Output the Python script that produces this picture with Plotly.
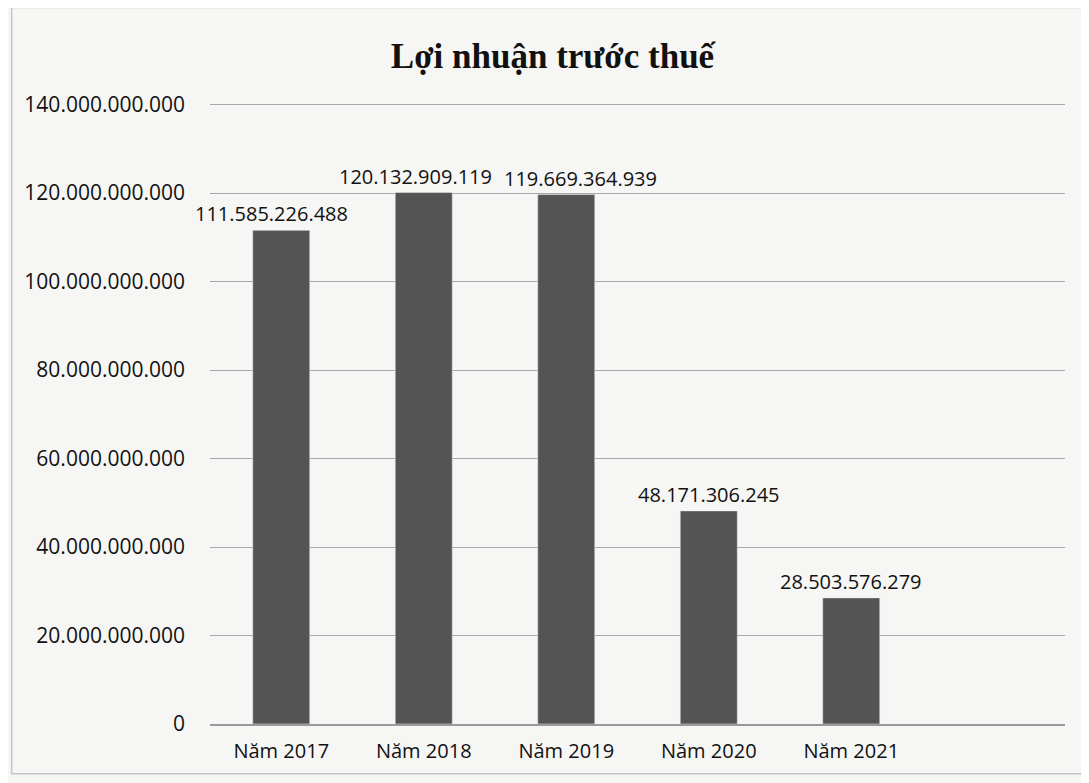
import plotly.graph_objects as go

categories = ["Năm 2017", "Năm 2018", "Năm 2019", "Năm 2020", "Năm 2021"]
values = [111585226488, 120132909119, 119669364939, 48171306245, 28503576279]
value_labels = ["111.585.226.488", "120.132.909.119", "119.669.364.939", "48.171.306.245", "28.503.576.279"]
tick_vals = [0, 20e9, 40e9, 60e9, 80e9, 100e9, 120e9, 140e9]
tick_text = ["0", "20.000.000.000", "40.000.000.000", "60.000.000.000", "80.000.000.000",
             "100.000.000.000", "120.000.000.000", "140.000.000.000"]

label_xshift = [-10, -8, 14, 0, 0]

FONT = "Open Sans"

fig = go.Figure()
fig.add_trace(go.Bar(
    x=categories, y=values,
    marker=dict(color="#545454"), width=0.4,
))

for cat, val, lab, dx in zip(categories, values, value_labels, label_xshift):
    fig.add_annotation(x=cat, y=val, text=lab, showarrow=False, yanchor="bottom",
                       yshift=1, xshift=dx,
                       font=dict(family=FONT, size=20, color="#111"))

fig.update_layout(
    width=1089, height=783,
    paper_bgcolor="#f6f6f4", plot_bgcolor="#f6f6f4",
    margin=dict(l=202, r=32, t=94, b=67),
    title=dict(text="<b>Lợi nhuận trước thuế</b>", x=0.5, xanchor="center", y=0.955,
               font=dict(family="Liberation Serif", size=35, color="#111")),
    showlegend=False,
    xaxis=dict(range=[-0.5, 5.5], showgrid=False, showline=True, linecolor="#9a9a9a",
               linewidth=1.5, tickfont=dict(family=FONT, size=20, color="#111"), ticks="",
               ticklabelstandoff=8),
    yaxis=dict(range=[0, 140.6e9], tickvals=tick_vals, ticktext=tick_text, showgrid=True,
               gridcolor="#a8a8a8", gridwidth=1, zeroline=False, showline=False,
               tickfont=dict(family=FONT, size=21, color="#111"), ticks="",
               ticklabelstandoff=24),
    bargap=0.6,
    shapes=[dict(type="rect", xref="paper", yref="paper", x0=-0.232, x1=1.023, y0=-0.08, y1=1.152,
                 line=dict(color="#c4c4c4", width=1.5))],
)

fig.write_html("out.html")
